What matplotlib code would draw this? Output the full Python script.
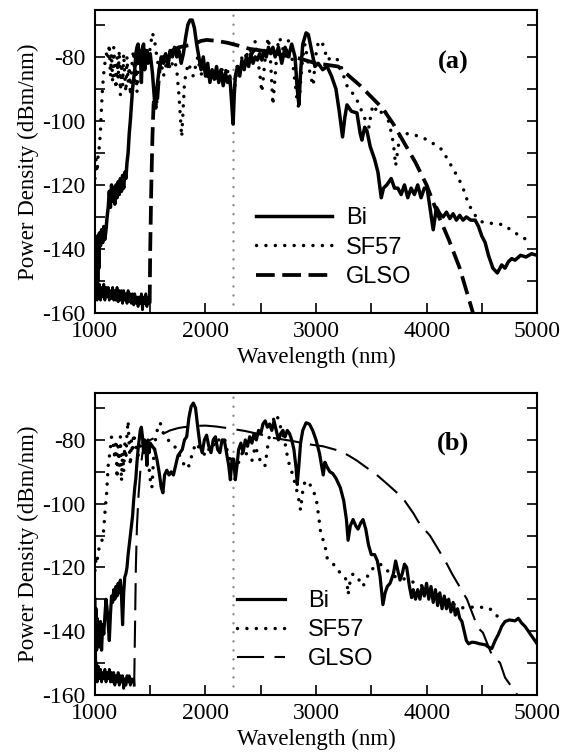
import matplotlib.pyplot as plt
from matplotlib.ticker import MultipleLocator

plt.rcParams['axes.unicode_minus'] = False

# ---- panel (a) data (nm, dBm/nm) ----
bi_a_x = [1000, 1005, 1010, 1015, 1020, 1025, 1030, 1035, 1040, 1050, 1060, 1070, 1080, 1090, 1100,
          1110, 1120, 1130, 1140, 1150, 1160, 1170, 1180, 1190, 1200, 1210, 1220, 1230, 1240, 1250,
          1260, 1270, 1280, 1290, 1300, 1310, 1320, 1330, 1340, 1350, 1360, 1370, 1380, 1390, 1400,
          1410, 1420, 1430, 1440, 1450, 1460, 1470, 1480, 1490, 1500, 1520, 1540, 1550, 1560, 1580,
          1600, 1620, 1640, 1660, 1680, 1700, 1720, 1740, 1760, 1780, 1800, 1820, 1840, 1860, 1880,
          1900, 1920, 1940, 1960, 1980, 2000, 2020, 2040, 2060, 2080, 2100, 2120, 2140, 2160, 2180,
          2200, 2220, 2240, 2250, 2260, 2270, 2290, 2310, 2330, 2350, 2370, 2390, 2410, 2430, 2450,
          2470, 2490, 2510, 2530, 2550, 2570, 2590, 2610, 2630, 2660, 2690, 2720, 2750, 2780, 2810,
          2830, 2845, 2860, 2880, 2910, 2930, 2960, 2990, 3020, 3060, 3100, 3140, 3180, 3210, 3240,
          3260, 3280, 3320, 3370, 3400, 3415, 3440, 3460, 3490, 3530, 3560, 3590, 3610, 3640, 3680,
          3710, 3740, 3770, 3800, 3830, 3860, 3890, 3920, 3950, 3980, 4005, 4030, 4060, 4090, 4120,
          4150, 4180, 4210, 4240, 4270, 4300, 4330, 4360, 4400, 4440, 4470, 4500, 4530, 4560, 4600,
          4640, 4680, 4710, 4740, 4770, 4800, 4850, 4900, 4950, 5000]
bi_a_y = [-140, -155, -138, -152, -136, -150, -137, -146, -135, -139, -134, -138, -133, -137, -134,
          -130, -127, -122, -127, -120, -125, -121, -126, -120, -124, -119, -123, -118, -122, -117,
          -121, -116, -118, -113, -110, -104, -100, -95, -90, -87, -84, -79, -77, -76, -82,
          -78, -88, -77, -76, -84, -80, -78, -82, -80, -79, -85, -94, -96, -90, -84,
          -80, -82, -79, -83, -78, -80, -77, -80, -78, -82, -79, -74, -70, -68.5, -68.5,
          -71, -76, -80, -84, -80, -86, -82, -88, -84, -87, -83, -88, -84, -89, -85,
          -88, -86, -96, -101, -92, -86, -83, -86, -81, -84, -80, -83, -79, -82, -80,
          -81, -79, -81, -78, -80, -77, -79, -77, -80, -77, -82, -77, -80, -76, -80,
          -90, -95, -85, -76, -72.5, -73, -78, -83, -82, -84, -83, -86, -90, -97, -105,
          -99, -95, -97, -97.5, -104, -106, -102, -103, -108, -112, -116, -124, -121, -120, -118,
          -121, -121, -123, -120, -124, -121, -123, -120, -124, -121, -121, -127, -134, -127, -129,
          -130, -128.5, -130.5, -129, -131, -129.5, -131, -130, -131, -131, -133, -136, -138, -142, -146,
          -147.5, -145, -146, -144, -143, -143.5, -142, -142.5, -141.5, -142]

sf57_a_x = [1000, 1010, 1020, 1030, 1040, 1050, 1060, 1070, 1080, 1090, 1100, 1110, 1120, 1130, 1140,
            1150, 1160, 1170, 1180, 1190, 1200, 1210, 1220, 1230, 1240, 1250, 1260, 1270, 1280, 1290,
            1300, 1310, 1320, 1330, 1340, 1350, 1360, 1370, 1380, 1390, 1400, 1420, 1440, 1460, 1480,
            1500, 1520, 1540, 1560, 1580, 1600, 1620, 1640, 1660, 1680, 1700, 1720, 1740, 1760, 1775,
            1785, 1795, 1810, 1830, 1850, 1870, 1890, 1910, 1930, 1950, 1970, 1990, 2010, 2030, 2050,
            2070, 2090, 2110, 2130, 2150, 2170, 2190, 2210, 2230, 2250, 2270, 2290, 2310, 2330, 2350,
            2370, 2390, 2410, 2430, 2450, 2470, 2490, 2510, 2530, 2550, 2570, 2590, 2610, 2630, 2650,
            2670, 2690, 2710, 2730, 2750, 2770, 2790, 2810, 2830, 2845, 2860, 2880, 2900, 2920, 2950,
            2975, 2995, 3020, 3050, 3080, 3100, 3150, 3200, 3220, 3250, 3280, 3320, 3350, 3390, 3420,
            3450, 3480, 3500, 3520, 3550, 3580, 3610, 3640, 3670, 3700, 3720, 3740, 3760, 3790, 3850,
            3900, 3950, 4010, 4080, 4140, 4190, 4240, 4290, 4330, 4370, 4410, 4450, 4500, 4550, 4620,
            4700, 4760, 4830, 4900]
sf57_a_y = [-118, -112, -116, -110, -108, -103, -95, -89, -85, -82, -80, -78, -80, -76, -86,
            -79, -88, -77, -84, -90, -80, -87, -78, -92, -82, -89, -79, -86, -91, -80,
            -88, -83, -92, -85, -80, -78, -88, -82, -91, -84, -78, -81, -77, -80, -82,
            -77, -72.5, -75, -80, -84, -82, -86, -83, -80, -84, -82, -81, -84, -92, -100,
            -105, -98, -88, -84, -82, -85, -86, -83, -80, -84, -86, -83, -87, -85, -88,
            -84, -87, -85, -88, -84, -87, -83, -86, -90, -94, -88, -82, -85, -80, -84,
            -78, -83, -77, -80, -75, -80, -85, -91, -84, -77, -74, -82, -95, -86, -77,
            -74, -76, -79, -78, -75, -78, -82, -88, -94, -96, -88, -80, -76, -80, -86,
            -89, -80, -75.5, -75, -78, -81, -80, -81, -82, -86, -89, -91, -92, -95, -97.5,
            -100, -102, -97, -95, -97, -98, -96, -98, -102, -107, -114, -109, -104, -104, -104,
            -104.5, -105, -106, -107.5, -109, -112, -115, -118, -121, -125, -128, -130, -131.5, -132, -132,
            -132.5, -134, -135.6, -137]

glso_a_floor_x = [1000, 1005, 1010, 1015, 1020, 1025, 1030, 1040, 1050, 1060, 1070, 1080, 1090, 1100,
                  1110, 1120, 1130, 1140, 1150, 1160, 1170, 1180, 1190, 1200, 1210, 1220, 1230, 1240,
                  1250, 1260, 1270, 1280, 1290, 1300, 1310, 1320, 1330, 1340, 1350, 1360, 1370, 1380,
                  1390, 1400, 1410, 1420, 1430, 1440, 1450, 1460, 1470, 1480, 1490, 1495]
glso_a_floor_y = [-150, -145, -154, -148, -156, -150, -155, -151, -156, -152, -155, -151, -156, -152,
                  -155, -152, -156, -153, -155.5, -152, -156, -153, -156, -152, -156.5, -153, -156, -153,
                  -157, -153, -156, -154, -157, -153, -156.5, -154, -157, -154, -157.5, -154, -157, -155,
                  -158, -155, -157, -154, -159, -155, -157, -154, -158, -155, -157, -156]
glso_a_x = [1495, 1500, 1510, 1520, 1530, 1545, 1560, 1575, 1590, 1620, 1660, 1700, 1760, 1830, 1900,
            1960, 2010, 2100, 2200, 2300, 2400, 2500, 2600, 2700, 2800, 2900, 3000, 3100, 3200, 3300,
            3400, 3500, 3600, 3700, 3800, 3900, 4000, 4100, 4200, 4300, 4420, 4450]
glso_a_y = [-157, -140, -120, -105, -95, -90, -95, -88, -82, -80, -79, -78, -77, -76.5, -76,
            -75, -74.7, -75, -75.6, -76.5, -77.5, -78, -78.5, -79.5, -80, -81, -82, -82.5, -83, -86,
            -89, -92.5, -96, -101, -107, -113, -120, -129, -137, -146, -160, -164]

# ---- panel (b) data ----
bi_b_x = [1000, 1005, 1010, 1015, 1020, 1030, 1040, 1050, 1060, 1070, 1080, 1090, 1100, 1110, 1120,
          1130, 1140, 1150, 1160, 1170, 1180, 1190, 1200, 1210, 1220, 1230, 1240, 1250, 1260, 1270,
          1280, 1290, 1300, 1310, 1320, 1330, 1340, 1350, 1360, 1370, 1380, 1390, 1400, 1410, 1420,
          1430, 1440, 1450, 1460, 1470, 1480, 1490, 1500, 1520, 1540, 1560, 1580, 1600, 1615, 1630,
          1650, 1670, 1690, 1710, 1730, 1750, 1770, 1790, 1810, 1830, 1850, 1870, 1890, 1910, 1930,
          1950, 1970, 1990, 2010, 2030, 2050, 2070, 2090, 2110, 2130, 2150, 2170, 2190, 2210, 2225,
          2240, 2255, 2270, 2285, 2300, 2320, 2340, 2360, 2380, 2400, 2420, 2440, 2460, 2480, 2500,
          2520, 2540, 2560, 2580, 2600, 2620, 2640, 2660, 2680, 2700, 2720, 2740, 2760, 2780, 2800,
          2820, 2830, 2845, 2860, 2880, 2910, 2940, 2970, 3000, 3030, 3055, 3065, 3080, 3100, 3125,
          3150, 3180, 3220, 3250, 3275, 3290, 3310, 3335, 3360, 3380, 3405, 3425, 3450, 3475, 3500,
          3530, 3555, 3580, 3605, 3625, 3645, 3670, 3700, 3720, 3740, 3760, 3780, 3800, 3820, 3845,
          3865, 3880, 3900, 3920, 3940, 3960, 3980, 4000, 4020, 4040, 4060, 4080, 4100, 4120, 4140,
          4160, 4180, 4200, 4220, 4240, 4260, 4280, 4300, 4320, 4340, 4360, 4380, 4410, 4440, 4480,
          4530, 4560, 4590, 4620, 4650, 4680, 4710, 4750, 4800, 4830, 4860, 4890, 4920, 4960, 5000]
bi_b_y = [-130, -145, -133, -146, -136, -140, -145, -137, -146, -138, -141, -135, -130, -133, -138,
          -143, -135, -129, -131, -127, -130, -126, -129, -125, -128, -124, -129, -138, -128, -123,
          -122, -120, -116, -113, -110, -107, -104, -99, -95, -92, -87, -83, -80, -77, -76,
          -79, -84, -80, -82, -88, -80, -84, -81, -82, -83, -86, -90, -95, -96.6, -91,
          -89.5, -91, -90, -91, -88, -85, -84, -83, -80, -79, -73, -69.5, -68.4, -70, -76,
          -81.5, -84, -80, -78.5, -82, -84, -80, -79, -83, -84, -80, -80, -84, -88, -92.5,
          -86, -86, -92.5, -88, -83, -81, -84, -80, -82, -79, -81, -78, -80, -77, -78,
          -75, -74, -76, -75, -77, -74, -77, -80, -78, -77, -79, -77, -78, -80, -83,
          -89, -94, -88, -81, -77, -74.6, -75, -77, -80, -84, -89, -91, -87, -88.5, -90,
          -90.5, -92, -95, -99, -105, -111.5, -107, -105, -107, -108, -106, -105, -108, -113, -116,
          -116, -118, -123, -131.7, -128, -126, -125, -122, -118, -121, -124, -122, -119, -120, -126,
          -129.5, -127, -130, -127, -130, -126, -129, -125, -130, -126, -131, -127, -132, -128, -133,
          -129, -133, -130, -134, -131, -135, -133, -136, -137, -140, -143, -144, -143.5, -143.6, -144,
          -144.3, -145, -145.5, -143, -141, -138.5, -137, -136.5, -136.8, -136, -137.5, -138.5, -140, -142, -144]

sf57_b_x = [1000, 1010, 1020, 1030, 1045, 1060, 1075, 1090, 1105, 1120, 1135, 1150, 1165, 1180, 1190,
            1200, 1210, 1220, 1230, 1240, 1250, 1260, 1270, 1280, 1290, 1300, 1310, 1320, 1330, 1340,
            1350, 1370, 1390, 1410, 1430, 1450, 1470, 1490, 1505, 1515, 1530, 1550, 1570, 1590, 1620,
            1660, 1700, 1740, 1780, 1810, 1840, 1860, 1890, 1920, 1950, 1980, 2000, 2030, 2060, 2090,
            2120, 2150, 2175, 2200, 2230, 2260, 2290, 2320, 2350, 2380, 2420, 2450, 2480, 2510, 2540,
            2570, 2600, 2620, 2645, 2670, 2690, 2720, 2740, 2760, 2790, 2820, 2840, 2860, 2880, 2900,
            2930, 2960, 3000, 3020, 3040, 3060, 3080, 3100, 3130, 3155, 3190, 3220, 3250, 3280, 3290,
            3310, 3335, 3360, 3390, 3425, 3450, 3490, 3530, 3580, 3620, 3670, 3720, 3780, 3840, 3900,
            3940, 4000, 4060, 4120, 4180, 4240, 4320, 4400, 4480, 4560, 4610, 4650, 4690]
sf57_b_y = [-121, -117, -118, -115, -113, -112, -110, -103, -97, -88, -84, -79, -81, -86, -80,
            -92, -82, -88, -79, -93, -84, -90, -81, -86, -78, -74, -82, -88, -80, -84,
            -78, -82, -85, -82, -80, -84, -87, -89, -94, -95, -86, -79, -76, -74.6, -78,
            -80, -81, -83, -86, -88, -89, -87, -83, -81, -83, -84, -85, -83, -81, -82,
            -80, -81, -80, -84, -87, -89, -88, -85, -83, -85, -86.5, -82, -85, -88, -88,
            -80, -76, -73, -72, -75, -77, -81, -85, -88, -91, -95, -98, -102, -96, -93,
            -93, -95, -98, -103, -108.5, -111, -113, -117, -118, -119, -120, -122, -123, -124, -128.6,
            -124, -122, -123, -124, -126, -124, -121, -120, -119, -120, -122, -123, -123.5, -124, -125,
            -125.5, -126.5, -127.5, -129, -130.5, -131.5, -132.7, -132.5, -132.5, -132.7, -134, -135.8, -136.5]

glso_b_floor_x = [1000, 1005, 1010, 1015, 1020, 1030, 1040, 1050, 1060, 1070, 1080, 1090, 1100, 1110,
                  1120, 1130, 1140, 1150, 1160, 1170, 1180, 1190, 1200, 1210, 1220, 1230, 1240, 1250,
                  1260, 1270, 1280, 1290, 1300, 1310, 1320, 1330, 1340, 1350, 1355]
glso_b_floor_y = [-150, -146, -154, -150, -156, -151, -155, -152, -156, -153, -155, -152, -156, -153,
                  -155, -152, -156, -153, -156, -153, -157, -154, -156, -153, -157, -154, -156, -154,
                  -158, -155, -157, -154, -156, -154, -157, -155, -156, -155, -157]
glso_b_x = [1355, 1362, 1370, 1380, 1395, 1410, 1430, 1460, 1500, 1560, 1620, 1680, 1750, 1800, 1900,
            2000, 2100, 2200, 2360, 2500, 2600, 2780, 2960, 3065, 3220, 3300, 3370, 3450, 3550, 3650,
            3730, 3800, 3880, 3940, 4030, 4100, 4185, 4230, 4365, 4465, 4510, 4590, 4665, 4710, 4820, 4840]
glso_b_y = [-157, -140, -120, -107, -97, -90, -84, -81, -80, -79, -78, -77, -76.3, -76, -75.6,
            -75.5, -75.8, -76.3, -77.2, -78.3, -79.3, -80.3, -81.5, -82, -83.5, -85, -86.5, -88.5, -91, -94,
            -96.5, -99, -103, -106.5, -110, -114, -119, -122, -130, -139, -140.5, -147.5, -150, -154.6, -160, -162]

marker_nm = 2250  # grey dotted reference line

serif = ['Liberation Serif', 'DejaVu Serif']
sans = ['Liberation Sans', 'DejaVu Sans']

fig = plt.figure(figsize=(5.72, 7.56), dpi=100)
ax_a = fig.add_axes([0.166, 0.586, 0.773, 0.401])
ax_b = fig.add_axes([0.166, 0.081, 0.773, 0.399])

dot = (0, (0.01, 2.7))


def style_axes(ax):
    ax.set_xlim(1000, 5000)
    ax.set_ylim(-160, -65.3)
    ax.xaxis.set_major_locator(MultipleLocator(1000))
    ax.xaxis.set_minor_locator(MultipleLocator(500))
    ax.yaxis.set_major_locator(MultipleLocator(20))
    ax.yaxis.set_minor_locator(MultipleLocator(10))
    ax.tick_params(which='both', direction='in', length=7, width=1.2,
                   top=False, right=True, colors='black')
    ax.tick_params(axis='x', which='major', pad=6)
    ax.tick_params(axis='y', which='major', pad=7)
    for lab in ax.get_xticklabels() + ax.get_yticklabels():
        lab.set_fontfamily(serif)
        lab.set_fontsize(17)
    for sp in ax.spines.values():
        sp.set_linewidth(1.5)
    ax.set_xlabel('Wavelength (nm)', fontsize=16.5, family=serif)
    ax.set_ylabel('Power Density (dBm/nm)', fontsize=16.5, family=serif)
    ax.xaxis.set_label_coords(0.5, -0.112)
    ax.yaxis.set_label_coords(-0.127, 0.5)
    ax.axvline(marker_nm, color='#8c8c8c', lw=1.8, ls=(0, (0.01, 3.6)),
               dash_capstyle='round', zorder=1)


# panel (a)
style_axes(ax_a)
ax_a.plot(glso_a_floor_x, glso_a_floor_y, color='black', lw=2.0)
ax_a.plot(bi_a_x, bi_a_y, color='black', lw=2.5, label='Bi')
ax_a.plot(sf57_a_x, sf57_a_y, color='black', lw=2.5, ls=dot,
          dash_capstyle='round', label='SF57')
ax_a.plot(glso_a_x, glso_a_y, color='black', lw=2.7, ls=(0, (5.0, 2.0)), label='GLSO')
ax_a.legend(loc='upper left', bbox_to_anchor=(0.365, 0.35), frameon=False,
            prop={'family': sans, 'size': 17}, handlelength=3.2, handletextpad=0.6,
            labelspacing=0.33, borderpad=0, borderaxespad=0)
ax_a.text(0.81, 0.825, '(a)', transform=ax_a.transAxes, ha='center', va='center',
          fontsize=19, fontweight='bold', family=serif)

# panel (b)
style_axes(ax_b)
ax_b.plot(glso_b_floor_x, glso_b_floor_y, color='black', lw=2.0)
ax_b.plot(bi_b_x, bi_b_y, color='black', lw=2.3, label='Bi')
ax_b.plot(sf57_b_x, sf57_b_y, color='black', lw=2.5, ls=dot,
          dash_capstyle='round', label='SF57')
ax_b.plot(glso_b_x, glso_b_y, color='black', lw=1.5, ls=(0, (13, 5)), label='GLSO')
ax_b.legend(loc='upper left', bbox_to_anchor=(0.322, 0.348), frameon=False,
            prop={'family': sans, 'size': 17}, handlelength=2.0, handletextpad=1.0,
            labelspacing=0.3, borderpad=0, borderaxespad=0)
ax_b.text(0.81, 0.834, '(b)', transform=ax_b.transAxes, ha='center', va='center',
          fontsize=19, fontweight='bold', family=serif)

fig.savefig('out.png', dpi=100)
